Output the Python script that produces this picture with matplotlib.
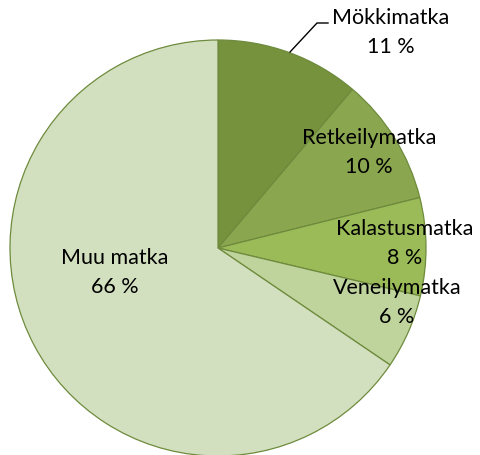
import matplotlib.pyplot as plt

labels = ["Mökkimatka", "Retkeilymatka", "Kalastusmatka", "Veneilymatka", "Muu matka"]
values = [11.2, 9.9, 7.6, 5.8, 65.5]
pct_text = ["11 %", "10 %", "8 %", "6 %", "66 %"]
colors = ["#76923C", "#8AA64F", "#9BBB59", "#BFD39C", "#D3E0BF"]

# label centres in pixel coords (x, y from top)
label_px = [(391, 18), (369, 138), (405, 229), (397, 288), (115, 258)]

W, H = 481, 456
cx, cy, r = 218, 249, 208

fig = plt.figure(figsize=(W / 100, H / 100), dpi=100)
ax = fig.add_axes([0, 0, 1, 1])
ax.pie(values, colors=colors, startangle=90, counterclock=False, radius=1,
       wedgeprops=dict(edgecolor="#6E8B3D", linewidth=0.9))
ax.set_xlim(-cx / r, (W - cx) / r)
ax.set_ylim((cy - H) / r, cy / r)
ax.set_aspect("auto")
ax.axis("off")

def to_data(px, py):
    return (px - cx) / r, (cy - py) / r

for name, pct, (px, py) in zip(labels, pct_text, label_px):
    x, y = to_data(px, py)
    ax.text(x, y, name, ha="center", va="center", fontsize=15.5, family="Lato", color="black")
    x2, y2 = to_data(px, py + 29)
    ax.text(x2, y2, pct, ha="center", va="center", fontsize=15.5, family="Lato", color="black")

# leader line for Mökkimatka
lx = [to_data(290, 53)[0], to_data(317, 24)[0], to_data(328, 24)[0]]
ly = [to_data(290, 53)[1], to_data(317, 24)[1], to_data(328, 24)[1]]
ax.plot(lx, ly, color="black", linewidth=1.0)

fig.savefig("out.png", dpi=100)
